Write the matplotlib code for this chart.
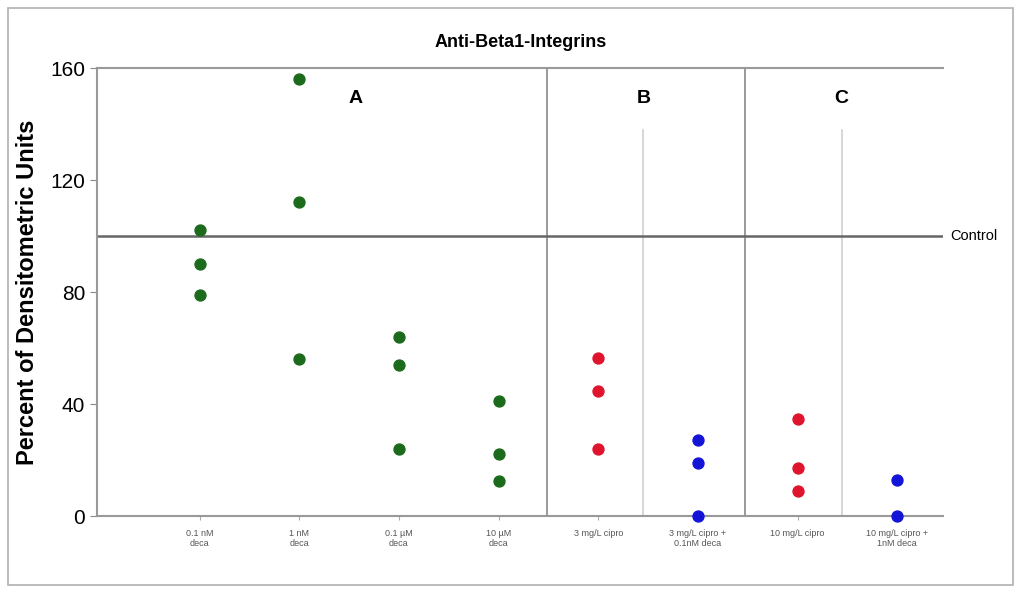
import numpy as np
import matplotlib.pyplot as plt
from matplotlib.patches import Rectangle

plt.rcParams["font.family"] = ["Liberation Sans", "DejaVu Sans"]

labels = ["0.1 nM\ndeca", "1 nM\ndeca", "0.1 \u00b5M\ndeca", "10 \u00b5M\ndeca",
          "3 mg/L cipro", "3 mg/L cipro +\n0.1nM deca", "10 mg/L cipro",
          "10 mg/L cipro +\n1nM deca"]
values = [
    [102, 90, 79],
    [156, 112, 56],
    [64, 54, 24],
    [41, 22, 12.5],
    [56.5, 44.5, 24],
    [27, 19, 0],
    [34.5, 17, 9],
    [13, 0],
]
colors = ["#1c6b1c"] * 4 + ["#e0142c", "#1414d8", "#e0142c", "#1414d8"]
control = 100

fig = plt.figure(figsize=(10.2, 5.9), dpi=100)
fig.patches.append(Rectangle((0.008, 0.008), 0.985, 0.978, transform=fig.transFigure,
                             fill=False, edgecolor="#b0b0b0", linewidth=1.2))
ax = fig.add_axes([0.0951, 0.1254, 0.8294, 0.7593])

for i, (vals, c) in enumerate(zip(values, colors)):
    ax.scatter([i + 1] * len(vals), vals, s=62, color=c, zorder=3, clip_on=False)

ax.set_xlim(-0.03, 8.46)
ax.set_ylim(0, 160)
ax.set_yticks([0, 40, 80, 120, 160])
ax.tick_params(axis="y", labelsize=15, length=5, color="#888888")
ax.set_xticks(np.arange(1, 9))
ax.set_xticklabels(labels, fontsize=6.5, color="#555555")
ax.tick_params(axis="x", length=3, color="#aaaaaa", pad=6)

for s in ["left", "bottom", "top"]:
    ax.spines[s].set_color("#999999")
    ax.spines[s].set_linewidth(1.5)
ax.spines["right"].set_visible(False)

# group separators
ax.axvline(4.49, color="#888888", lw=1.2)
ax.axvline(6.47, color="#888888", lw=1.2)
ax.plot([5.45, 5.45], [0, 138], color="#d0d0d0", lw=1.2)
ax.plot([7.45, 7.45], [0, 138], color="#d0d0d0", lw=1.2)

# control line
ax.axhline(control, color="#666666", lw=1.8, zorder=2)
ax.text(8.53, control, "Control", fontsize=10.5, va="center", ha="left")

for x, t in [(2.56, "A"), (5.46, "B"), (7.44, "C")]:
    ax.text(x, 149, t, fontsize=14, fontweight="bold", ha="center", va="center")

ax.set_ylabel("Percent of Densitometric Units", fontsize=17, fontweight="bold", labelpad=8)
fig.text(0.51, 0.928, "Anti-Beta1-Integrins", fontsize=13, fontweight="bold",
         ha="center", va="center")

fig.savefig("out.png", dpi=100)
